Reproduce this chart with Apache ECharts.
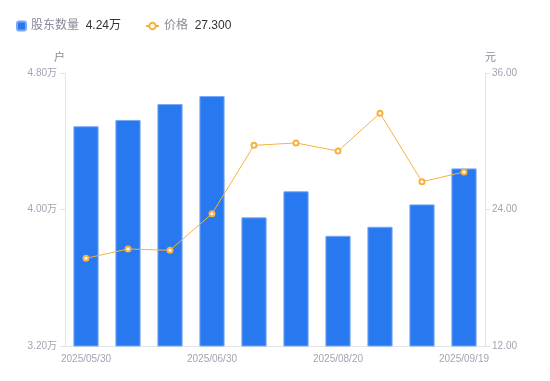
<!DOCTYPE html>
<html><head><meta charset="utf-8">
<script src="https://cdn.jsdelivr.net/npm/echarts@6/dist/echarts.min.js"></script>
<style>html,body{margin:0;padding:0;background:#fff}#c{width:550px;height:381px}</style>
</head><body><div id="c"></div>
<script>
var categories = ['2025/05/30','2025/06/10','2025/06/20','2025/06/30','2025/07/10','2025/07/31','2025/08/20','2025/08/31','2025/09/10','2025/09/19'];
var holders = [4.488, 4.525, 4.618, 4.665, 3.954, 4.107, 3.846, 3.899, 4.030, 4.241]; // 万户
var prices = [19.71, 20.53, 20.41, 23.63, 29.64, 29.85, 29.14, 32.46, 26.44, 27.30];
var leftTicks = [3.2, 4.8, 0.8];
var rightTicks = [12, 36, 12];
var lastHolder = '4.24万';
var lastPrice = '27.300';

var chart = echarts.init(document.getElementById('c'), null, {renderer:'canvas'});
var ff = '"Liberation Sans", Arial, "Noto Sans CJK SC", sans-serif';
var rich = {a:{color:'#8a8a99', fontSize:12, fontFamily: ff}, b:{color:'#333', fontSize:12, fontFamily: ff}};
chart.setOption({
  animation: false,
  textStyle: {fontFamily: ff},
  legend: [{
    left: 11, top: 15, itemWidth: 9, itemHeight: 9,
    data: [{name:'股东数量', icon:'roundRect'}],
    formatter: function(n){ return '{a|' + n + '}  {b|' + lastHolder + '}'; },
    textStyle: {rich: rich}
  }, {
    left: 140, top: 15, itemWidth: 13, itemHeight: 8,
    data: [{name:'价格'}],
    formatter: function(n){ return '{a|' + n + '}  {b|' + lastPrice + '}'; },
    textStyle: {rich: rich}
  }],
  grid: {left: 65, right: 65, top: 73, bottom: 35, containLabel: false},
  xAxis: {
    type: 'category', data: categories,
    axisLine: {lineStyle: {color: '#e3e3e8'}},
    axisTick: {show: false},
    axisLabel: {interval: 2, color: '#a3a3b3', fontSize: 10, margin: 8}
  },
  yAxis: [{
    type: 'value', name: '户', min: leftTicks[0], max: leftTicks[1], interval: leftTicks[2],
    nameTextStyle: {color: '#8a8a99', fontSize: 11, align: 'right'}, nameGap: 10,
    axisLine: {show: true, lineStyle: {color: '#e3e3e8'}},
    axisTick: {show: true, length: 5, lineStyle: {color: '#e3e3e8'}},
    splitLine: {show: false},
    axisLabel: {color: '#a3a3b3', fontSize: 10, margin: 8, formatter: function(v){ return v.toFixed(2) + '万'; }}
  }, {
    type: 'value', name: '元', min: rightTicks[0], max: rightTicks[1], interval: rightTicks[2],
    nameTextStyle: {color: '#8a8a99', fontSize: 11, align: 'left'}, nameGap: 10,
    axisLine: {show: true, lineStyle: {color: '#e3e3e8'}},
    axisTick: {show: true, length: 5, lineStyle: {color: '#e3e3e8'}},
    splitLine: {show: false},
    axisLabel: {color: '#a3a3b3', fontSize: 10, margin: 7, formatter: function(v){ return v.toFixed(2); }}
  }],
  series: [{
    name: '股东数量', type: 'bar', data: holders, barWidth: '60%', yAxisIndex: 0,
    itemStyle: {color: '#2878f0', borderColor: '#7aaaf5', borderWidth: 1}
  }, {
    name: '价格', type: 'line', data: prices, yAxisIndex: 1,
    symbol: 'emptyCircle', symbolSize: 5,
    lineStyle: {color: '#f7b13f', width: 1},
    itemStyle: {color: '#f7b13f', borderWidth: 2}
  }]
});
</script></body></html>
